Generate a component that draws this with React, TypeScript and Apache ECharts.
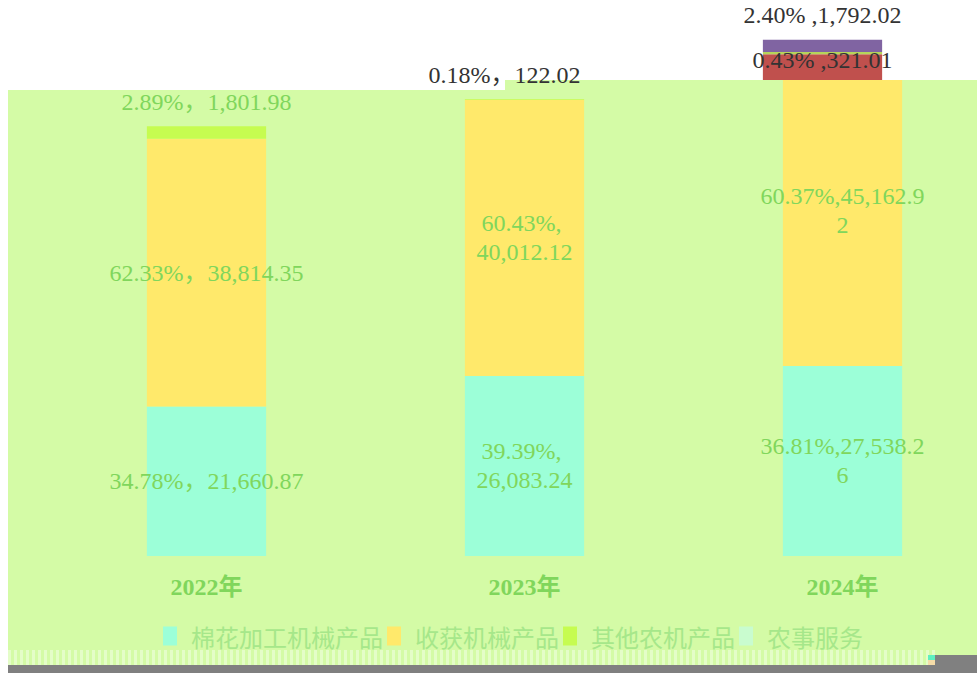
import React, { useEffect, useRef } from 'react';
import * as echarts from 'echarts';

// ---------- data ----------
const YEARS = ['2022年', '2023年', '2024年'];
const SERIES_NAMES = ['棉花加工机械产品', '收获机械产品', '其他农机产品', '农事服务'];
const COTTON = [21660.87, 26083.24, 27538.26];
const HARVEST = [38814.35, 40012.12, 45162.92];
const OTHER = [1801.98, 122.02, 321.01];
const SERVICE: (number | null)[] = [null, null, 1792.02];

// ---------- styling ----------
const GREEN_BG = '#d4fba6';
const STRIPE = '#e4fdc8';
const CYAN = '#9cffd8';
const YELLOW = '#ffe96b';
const YG = '#c6fc50';
const MINT = '#c9fccf';
const LABEL_GREEN = '#80d65c';
const LEGEND_GREEN = '#a6e78a';
const DARK = '#333333';
const RED = '#c0504d';
const PURPLE = '#8064a2';
const LINE_YG = '#b5d55a';
const SERIF = "'Liberation Serif', 'Times New Roman', 'Noto Sans CJK SC', serif";

const CHART_W = 1026;
const CHART_H = 673;
const BASE_Y = 556;
const CLIP_Y = 80;
const UNIT_PER_PX = 144.9;
const Y_MAX = 75000;
const MAIN_TOP = BASE_Y - Y_MAX / UNIT_PER_PX;
const CLIP_MIN = (BASE_Y - CLIP_Y) * UNIT_PER_PX;
const SHIFT = 20;

const TOTALS = YEARS.map((_, i) =>
  [COTTON, HARVEST, OTHER, SERVICE].reduce((s, arr) => s + ((arr[i] as number) ?? 0), 0)
);
const fmt = (v: number) =>
  v.toLocaleString('en-US', { minimumFractionDigits: 2, maximumFractionDigits: 2 });
const pct = (v: number, i: number) => ((v / TOTALS[i]) * 100).toFixed(2) + '%';
const SEP = ['，', ', ', ','];
const labelText = (v: number, i: number, sep: string = SEP[i]) => pct(v, i) + sep + fmt(v);

const baseLabel = {
  fontFamily: SERIF,
  fontSize: 24,
  lineHeight: 29,
  color: LABEL_GREEN,
  textBorderWidth: 0,
};
const WRAP: any[] = [
  {},
  { width: 100, overflow: 'break', align: 'center' },
  { width: 170, overflow: 'breakAll', align: 'center' },
];

const insideData = (arr: (number | null)[]) =>
  arr.map((v, i) =>
    v == null
      ? null
      : { value: v, label: { show: true, position: 'inside', formatter: labelText(v, i), ...WRAP[i] } }
  );

const only2024 = (arr: (number | null)[]) => arr.map((v, i) => (i === 2 ? v : null));

export default function App() {
  const ref = useRef<HTMLDivElement>(null);

  useEffect(() => {
    if (!ref.current) return;
    const chart = echarts.init(ref.current, undefined, { renderer: 'svg' });

    const stripes: any[] = [];
    for (let x = 8; x < 935; x += 6) {
      stripes.push({ type: 'rect', z: 0, shape: { x, y: 650, width: 3, height: 15 }, style: { fill: STRIPE } });
    }

    const option: any = {
      animation: false,
      backgroundColor: 'transparent',
      graphic: {
        elements: [
          {
            type: 'polygon',
            z: 0,
            shape: { points: [[8, 90], [505, 90], [505, CLIP_Y], [CHART_W, CLIP_Y], [CHART_W, 665], [8, 665]] },
            style: { fill: GREEN_BG },
          },
          ...stripes,
          { type: 'rect', z: 0, shape: { x: 8, y: 665, width: CHART_W, height: 8 }, style: { fill: '#808080' } },
          { type: 'rect', z: 0, shape: { x: 935, y: 655, width: 100, height: 10 }, style: { fill: '#808080' } },
          { type: 'rect', z: 0, shape: { x: 928, y: 655, width: 7, height: 5 }, style: { fill: '#5ff0c0' } },
          { type: 'rect', z: 0, shape: { x: 928, y: 660, width: 7, height: 5 }, style: { fill: '#f5dca8' } },
          { type: 'rect', z: 3, shape: { x: 600, y: 0, width: CHART_W, height: CLIP_Y }, style: { fill: '#ffffff' } },
        ],
      },
      legend: {
        data: SERIES_NAMES,
        left: 'center',
        top: 619,
        icon: 'rect',
        itemWidth: 14,
        itemHeight: 19,
        itemGap: 4,
        selectedMode: false,
        textStyle: {
          color: LEGEND_GREEN,
          fontSize: 24,
          fontFamily: "'Noto Sans CJK SC', sans-serif",
          padding: [0, 0, 0, 9],
        },
      },
      grid: [
        { left: 47.5, right: CHART_W - 1001.5, top: MAIN_TOP, bottom: CHART_H - BASE_Y },
        { left: 47.5 - SHIFT, right: CHART_W - 1001.5 + SHIFT, top: MAIN_TOP, bottom: CHART_H - CLIP_Y },
      ],
      xAxis: [
        {
          type: 'category',
          gridIndex: 0,
          data: YEARS,
          axisLine: { show: false },
          axisTick: { show: false },
          axisLabel: {
            color: LABEL_GREEN,
            fontWeight: 'bold',
            fontSize: 24,
            fontFamily: SERIF,
            margin: 19,
          },
        },
        { type: 'category', gridIndex: 1, data: YEARS, show: false },
      ],
      yAxis: [
        { type: 'value', gridIndex: 0, min: 0, max: Y_MAX, show: false, splitLine: { show: false } },
        { type: 'value', gridIndex: 1, min: CLIP_MIN, max: Y_MAX, show: false, splitLine: { show: false } },
      ],
      series: [
        {
          name: SERIES_NAMES[0],
          type: 'bar',
          stack: 'main',
          barWidth: '37.5%',
          itemStyle: { color: CYAN },
          label: { ...baseLabel },
          data: insideData(COTTON),
        },
        {
          name: SERIES_NAMES[1],
          type: 'bar',
          stack: 'main',
          barWidth: '37.5%',
          itemStyle: { color: YELLOW },
          label: { ...baseLabel },
          data: insideData(HARVEST),
        },
        {
          name: SERIES_NAMES[2],
          type: 'bar',
          stack: 'main',
          barWidth: '37.5%',
          itemStyle: { color: YG },
          label: { ...baseLabel },
          data: [
            { value: OTHER[0], label: { show: true, position: 'top', distance: 10, formatter: labelText(OTHER[0], 0) } },
            {
              value: OTHER[1],
              label: {
                show: true,
                position: 'top',
                distance: 10,
                offset: [-SHIFT, 0],
                color: DARK,
                formatter: labelText(OTHER[1], 1, '，'),
              },
            },
            { value: OTHER[2], label: { show: false } },
          ],
        },
        {
          name: SERIES_NAMES[3],
          type: 'bar',
          stack: 'main',
          barWidth: '37.5%',
          itemStyle: { color: MINT },
          label: { show: false },
          data: SERVICE,
        },
        // shifted top layer (only visible above the green background)
        {
          name: 'shift-a',
          type: 'bar',
          stack: 'shift',
          xAxisIndex: 1,
          yAxisIndex: 1,
          z: 4,
          clip: true,
          barWidth: '37.5%',
          itemStyle: { color: RED },
          data: only2024(COTTON),
        },
        {
          name: 'shift-b',
          type: 'bar',
          stack: 'shift',
          xAxisIndex: 1,
          yAxisIndex: 1,
          z: 4,
          clip: true,
          barWidth: '37.5%',
          itemStyle: { color: RED },
          data: only2024(HARVEST),
        },
        {
          name: 'shift-c',
          type: 'bar',
          stack: 'shift',
          xAxisIndex: 1,
          yAxisIndex: 1,
          z: 4,
          clip: true,
          barWidth: '37.5%',
          itemStyle: { color: LINE_YG },
          label: {
            ...baseLabel,
            show: true,
            position: 'inside',
            offset: [0, 7],
            color: DARK,
            formatter: (p: any) => labelText(p.value, 2, ' ,'),
          },
          data: only2024(OTHER),
        },
        {
          name: 'shift-d',
          type: 'bar',
          stack: 'shift',
          xAxisIndex: 1,
          yAxisIndex: 1,
          z: 4,
          clip: true,
          barWidth: '37.5%',
          itemStyle: { color: PURPLE },
          label: {
            ...baseLabel,
            show: true,
            position: 'top',
            distance: 10,
            color: DARK,
            formatter: (p: any) => labelText(p.value, 2, ' ,'),
          },
          data: only2024(SERVICE),
        },
      ],
    };

    chart.setOption(option);
    return () => chart.dispose();
  }, []);

  return (
    <div
      style={{
        position: 'fixed',
        left: 0,
        top: 0,
        width: 977,
        height: 673,
        overflow: 'hidden',
        background: '#ffffff',
      }}
    >
      <div ref={ref} style={{ width: CHART_W, height: CHART_H }} />
    </div>
  );
}
